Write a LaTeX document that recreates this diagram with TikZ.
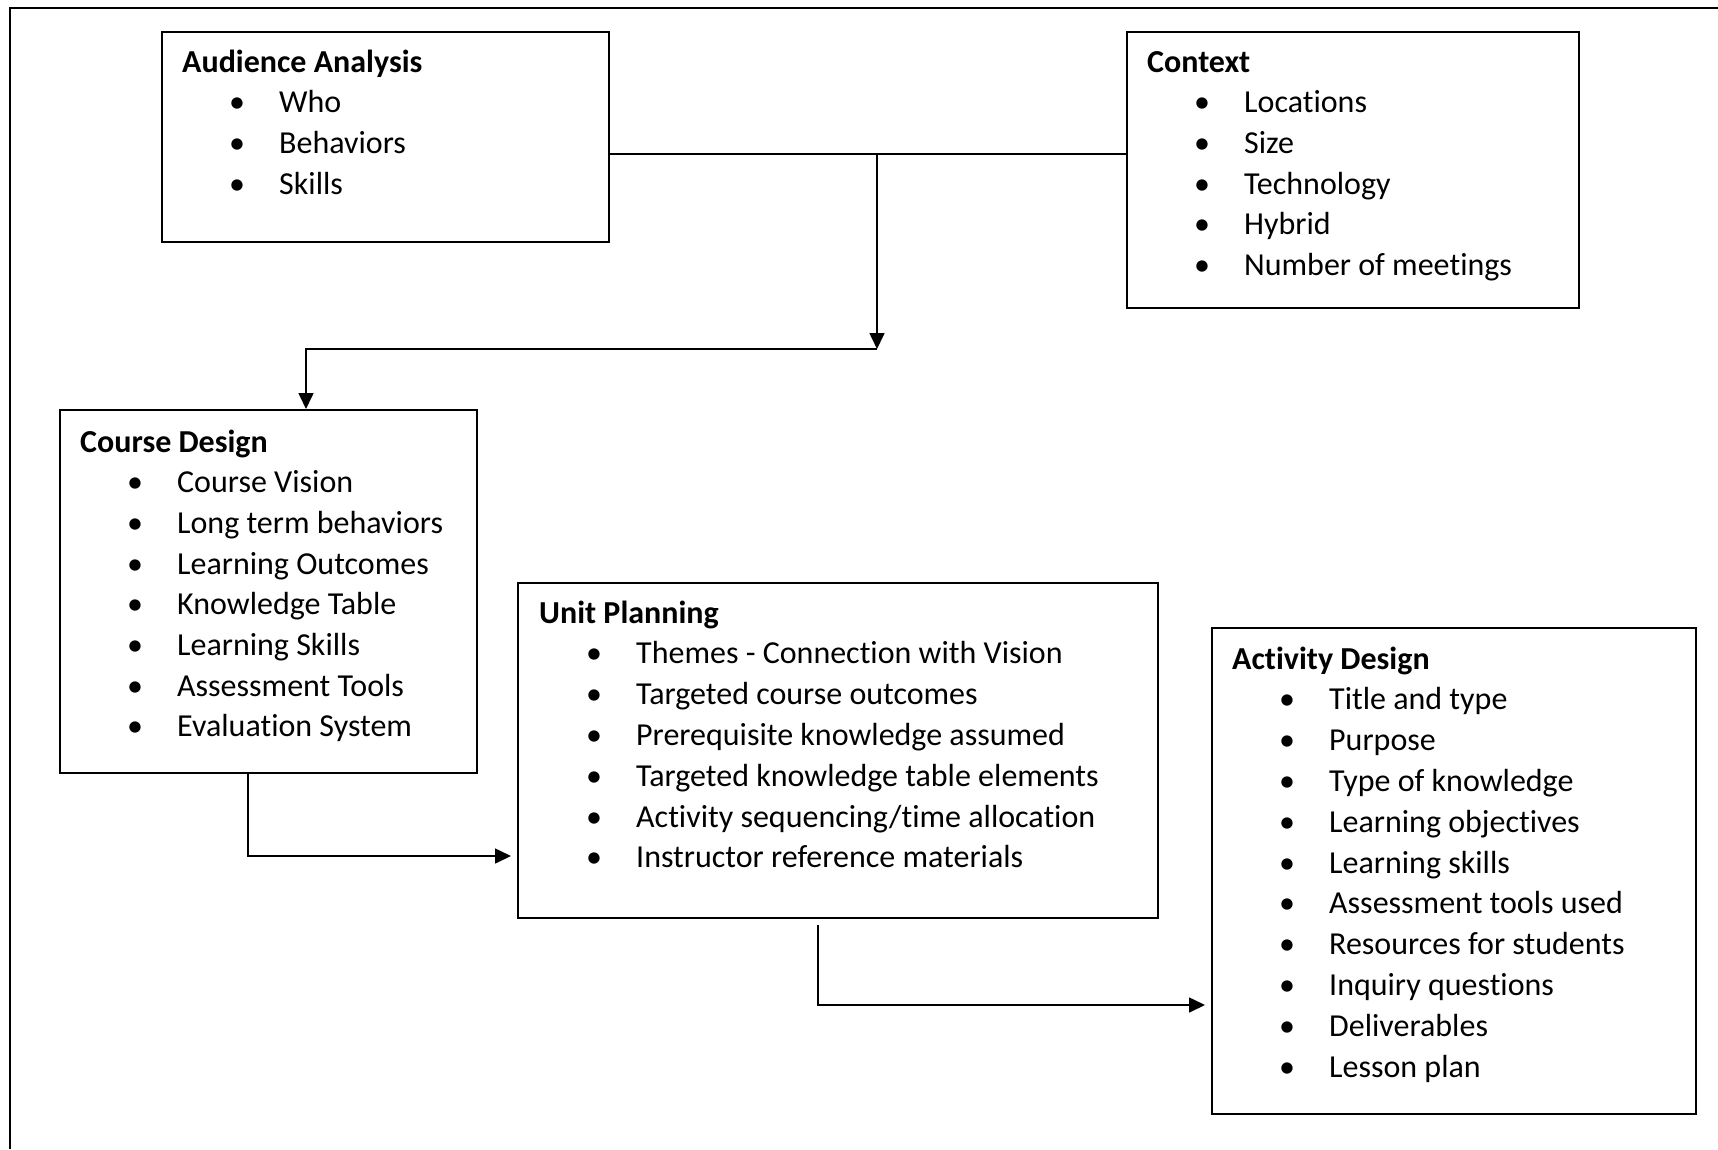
\documentclass[tikz,border=0pt]{standalone}
\usepackage{fontspec}
\setmainfont{Carlito}[Ligatures=NoCommon]
\usetikzlibrary{arrows.meta,calc}
\tikzset{
  box/.style={draw, line width=1.6pt, inner sep=0pt, anchor=north west},
  ttl/.style={anchor=base west, inner sep=0pt, font=\fontsize{32}{38}\selectfont\bfseries},
  itm/.style={anchor=base west, inner sep=0pt, font=\fontsize{32}{38}\selectfont},
  conn/.style={line width=1.6pt},
  arr/.style={line width=1.6pt, -{Triangle[length=16pt,width=15pt]}},
  frame/.style={line width=1.8pt}
}
\newcommand\bitem[1]{\hspace*{55pt}\makebox[0pt]{\textbullet}\hspace*{42pt}#1}
\begin{document}
\begin{tikzpicture}[x=1pt,y=-1pt]
\useasboundingbox (0,0) rectangle (1718,1149);
% outer frame (only top and left visible)
\draw[frame] (10,1149) -- (10,8) -- (1718,8);

% Audience Analysis
\node[box, minimum width=447pt, minimum height=210pt] (aud) at (161,31) {};
\node[ttl] (aud-t) at (182,72) {Audience Analysis};
\foreach \t [count=\i] in {Who,Behaviors,Skills}
  \node[itm] (aud-\i) at (182,{72+40.7*\i}) {\bitem{\t}};

% Context
\node[box, minimum width=452pt, minimum height=276pt] (ctx) at (1126,31) {};
\node[ttl] (ctx-t) at (1147,72) {Context};
\foreach \t [count=\i] in {Locations,Size,Technology,Hybrid,Number of meetings}
  \node[itm] (ctx-\i) at (1147,{72+40.7*\i}) {\bitem{\t}};

% Course Design
\node[box, minimum width=417pt, minimum height=363pt] (cd) at (59,409) {};
\node[ttl] (cd-t) at (80,452) {Course Design};
\foreach \t [count=\i] in {Course Vision,Long term behaviors,Learning Outcomes,Knowledge Table,Learning Skills,Assessment Tools,Evaluation System}
  \node[itm] (cd-\i) at (80,{452+40.7*\i}) {\bitem{\t}};

% Unit Planning
\node[box, minimum width=640pt, minimum height=335pt] (up) at (517,582) {};
\node[ttl] (up-t) at (539,623) {Unit Planning};
\foreach \t [count=\i] in {Themes - Connection with Vision,Targeted course outcomes,Prerequisite knowledge assumed,Targeted knowledge table elements,Activity sequencing/time allocation,Instructor reference materials}
  \node[itm] (up-\i) at (539,{623+40.8*\i}) {\bitem{\t}};

% Activity Design
\node[box, minimum width=484pt, minimum height=486pt] (ad) at (1211,627) {};
\node[ttl] (ad-t) at (1232,669) {Activity Design};
\foreach \t [count=\i] in {Title and type,Purpose,Type of knowledge,Learning objectives,Learning skills,Assessment tools used,Resources for students,Inquiry questions,Deliverables,Lesson plan}
  \node[itm] (ad-\i) at (1232,{669+40.8*\i}) {\bitem{\t}};

% connectors
\coordinate (j1) at (877,154);
\coordinate (j2) at (877,349);
\draw[conn] (aud.north east |- j1) -- (ctx.north west |- j1);
\draw[arr] (j1) -- (j2);
\draw[arr] (j2) -| (cd.north -| 306,0);

\coordinate (c1) at (248,856);
\draw[arr] (cd.south -| c1) |- ($(up.west |- c1)+(-6,0)$);

\coordinate (u1) at (818,1005);
\draw[arr] ($(up.south -| u1)+(0,6)$) |- ($(ad.west |- u1)+(-6,0)$);
\end{tikzpicture}
\end{document}
